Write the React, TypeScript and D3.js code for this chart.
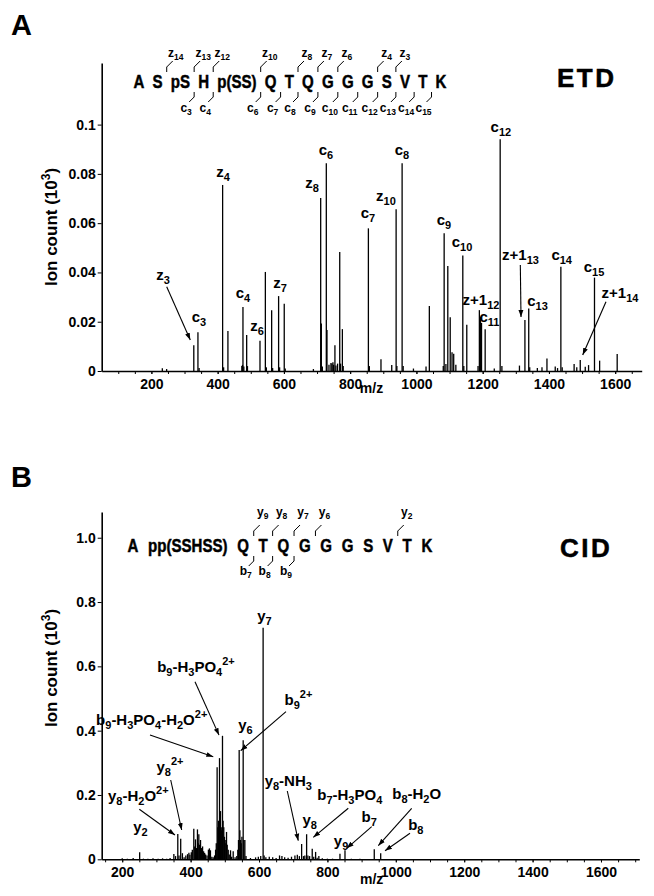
import React, { useEffect, useRef } from "react";
import * as d3 from "d3";

// ---- panel A: ETD spectrum ----
const etdMz = [233, 246, 328, 340.5, 344, 415, 418, 431, 473, 475, 476.4, 479, 487.6, 490, 527.8, 544, 547, 563, 566, 584, 587, 601, 604, 689, 711, 713, 716, 728, 730, 736, 742, 745, 748, 750, 754, 757, 762, 768.5, 771, 776.5, 779, 855, 858, 893, 925.5, 938.7, 941, 956.8, 960, 991, 1029, 1039, 1081, 1083.7, 1089, 1094.7, 1102, 1107.5, 1112.5, 1119, 1140, 1143, 1152, 1186, 1190, 1193.4, 1196.5, 1207.5, 1235, 1252.8, 1258, 1311, 1327.5, 1339, 1342, 1365, 1379, 1394, 1419, 1426, 1436, 1440, 1476, 1484, 1494.5, 1509.6, 1519.6, 1537.5, 1553, 1606];
const etdCount = [0.0011, 0.0008, 0.0105, 0.0157, 0.0012, 0.0755, 0.0015, 0.0162, 0.002, 0.0025, 0.026, 0.0018, 0.0146, 0.002, 0.0123, 0.0402, 0.0015, 0.0247, 0.0012, 0.0304, 0.0015, 0.0273, 0.001, 0.0008, 0.0702, 0.0193, 0.0018, 0.0843, 0.0166, 0.0025, 0.0032, 0.003, 0.0036, 0.0025, 0.0105, 0.0022, 0.003, 0.0483, 0.003, 0.017, 0.002, 0.0579, 0.002, 0.0048, 0.0024, 0.0656, 0.002, 0.0843, 0.002, 0.001, 0.0018, 0.0264, 0.002, 0.0559, 0.0028, 0.0426, 0.0218, 0.0076, 0.007, 0.0025, 0.0469, 0.002, 0.0188, 0.002, 0.0247, 0.022, 0.0195, 0.0169, 0.001, 0.0941, 0.002, 0.0022, 0.0207, 0.0254, 0.0015, 0.0012, 0.0015, 0.0051, 0.0018, 0.0012, 0.0423, 0.0015, 0.0028, 0.0015, 0.0045, 0.0017, 0.0024, 0.0379, 0.0042, 0.0069];

const etdYTicks = [0, 0.02, 0.04, 0.06, 0.08, 0.1];
const etdYTickLabels = ["0", "0.02", "0.04", "0.06", "0.08", "0.1"];

const etdLabelText = ["z_3", "c_3", "z_4", "c_4", "z_6", "z_7", "z_8", "c_6", "c_7", "z_10", "c_8", "c_9", "c_10", "z+1_12", "c_11", "c_12", "z+1_13", "c_13", "c_14", "c_15", "z+1_14"];
const etdLabelMz = [235, 343.7, 416, 476.5, 518.8, 588.2, 684.8, 727, 853.8, 908, 956.4, 1083, 1137.6, 1195, 1220.6, 1255, 1314, 1365.5, 1438.5, 1536, 1614.5];
const etdLabelCount = [0.0369, 0.0199, 0.0789, 0.0296, 0.0162, 0.0337, 0.0743, 0.0877, 0.0621, 0.069, 0.0877, 0.0593, 0.0503, 0.0268, 0.0199, 0.097, 0.045, 0.0264, 0.045, 0.0402, 0.0296];

const etdArrowFrom = [[246.2, 0.0342], [1313.6, 0.043], [1572.2, 0.0281]];
const etdArrowTo = [[317.4, 0.0126], [1315.7, 0.0219], [1501.9, 0.0065]];

const etdPeptide = ["A", "S", "pS", "H", "p(SS)", "Q", "T", "Q", "G", "G", "G", "S", "V", "T", "K"];
const etdZ = [14, 13, 12, 10, 8, 7, 6, 4, 3];
const etdC = [3, 4, 6, 7, 8, 9, 10, 11, 12, 13, 14, 15];

// ---- panel B: CID spectrum ----
const cidMz = [200, 215, 232, 251, 262, 275, 290, 305, 318, 330, 340, 351, 356, 362.5, 366, 371, 376, 381, 386, 391, 395, 398, 402, 405, 409.3, 412, 414.3, 417, 420, 422, 424, 426.5, 429, 431.5, 435, 438, 441, 444, 448, 452, 455, 458, 462, 466, 470, 473, 475, 477.5, 479.5, 481.5, 484.5, 486, 487.4, 489.5, 491, 493.2, 495, 497, 499, 501, 503, 505, 507, 510, 513, 516.7, 520, 524.5, 530, 535, 538, 540, 542, 544, 546, 548, 550, 553.7, 555.5, 558.6, 562, 575, 590, 598, 605, 612, 615, 620, 630, 640, 650, 660, 667, 675, 685, 695, 705, 712, 718, 724.6, 730, 734, 739.2, 743, 748, 755.6, 760, 765.5, 770, 775, 785, 800, 815, 836.7, 851.4, 870, 895, 937, 955.8, 1000, 1050];
const cidCount = [0.003, 0.002, 0.004, 0.0218, 0.002, 0.002, 0.003, 0.002, 0.003, 0.002, 0.004, 0.0166, 0.01, 0.0788, 0.012, 0.064, 0.019, 0.006, 0.012, 0.016, 0.02, 0.014, 0.022, 0.03, 0.095, 0.04, 0.062, 0.035, 0.093, 0.05, 0.078, 0.045, 0.06, 0.035, 0.04, 0.025, 0.02, 0.015, 0.012, 0.03, 0.034, 0.028, 0.008, 0.006, 0.012, 0.03, 0.05, 0.2866, 0.1, 0.12, 0.3146, 0.12, 0.15, 0.1, 0.09, 0.384, 0.12, 0.1, 0.07, 0.06, 0.05, 0.085, 0.045, 0.03, 0.015, 0.028, 0.008, 0.025, 0.006, 0.01, 0.03, 0.06, 0.34, 0.09, 0.06, 0.05, 0.07, 0.37, 0.06, 0.06, 0.01, 0.004, 0.006, 0.008, 0.01, 0.72, 0.012, 0.006, 0.008, 0.006, 0.004, 0.012, 0.01, 0.006, 0.005, 0.008, 0.012, 0.014, 0.01, 0.0476, 0.01, 0.012, 0.078, 0.012, 0.01, 0.033, 0.008, 0.023, 0.005, 0.01, 0.003, 0.002, 0.002, 0.017, 0.028, 0.002, 0.002, 0.031, 0.019, 0.001, 0.001];

const cidYTicks = [0, 0.2, 0.4, 0.6, 0.8, 1.0];
const cidYTickLabels = ["0", "0.2", "0.4", "0.6", "0.8", "1.0"];

const cidLabelText = ["y_7", "b_9-H_3PO_4^2+", "b_9^2+", "b_9-H_3PO_4-H_2O^2+", "y_6", "y_8^2+", "y_8-H_2O^2+", "y_2", "y_8-NH_3", "y_8", "b_7-H_3PO_4", "y_9", "b_7", "b_8-H_2O", "b_8"];
const cidLabelMz = [616, 415.7, 715.4, 286.2, 560.5, 339.7, 247, 253.4, 685.6, 748.2, 865.4, 840, 922, 1061, 1058.4];
const cidLabelCount = [0.742, 0.582, 0.479, 0.4176, 0.402, 0.2715, 0.1813, 0.0849, 0.228, 0.1067, 0.1844, 0.0414, 0.116, 0.1875, 0.0911];

const cidArrowFrom = [[412.8, 0.552], [678.9, 0.459], [281.2, 0.3866], [341.8, 0.2466], [250, 0.1555], [682.7, 0.2124], [861, 0.1586], [929.5, 0.1014], [1046.4, 0.1586], [1041.5, 0.0808]];
const cidArrowTo = [[483, 0.3862], [546.4, 0.3377], [466.3, 0.319], [373.9, 0.0911], [354.3, 0.0756], [714.8, 0.0578], [758.7, 0.0684], [856.4, 0.0342], [948.8, 0.0423], [968.4, 0.0267]];

const cidPeptide = ["A", "pp(SSHSS)", "Q", "T", "Q", "G", "G", "G", "S", "V", "T", "K"];
const cidY = [9, 8, 7, 6, 2];
const cidB = [7, 8, 9];

const xTickValues = [200, 400, 600, 800, 1000, 1200, 1400, 1600];
const RESIDUES = 16;

const SANS = "'Liberation Sans', Arial, Helvetica, sans-serif";

type Seg = { t: string; m: "n" | "sub" | "sup" };

function parseLabel(s: string): Seg[] {
  const segs: Seg[] = [];
  let buf = "";
  let i = 0;
  while (i < s.length) {
    const ch = s[i];
    if (ch === "_") {
      if (buf) segs.push({ t: buf, m: "n" });
      buf = "";
      i++;
      let d = "";
      while (i < s.length && /[0-9]/.test(s[i])) { d += s[i]; i++; }
      segs.push({ t: d, m: "sub" });
    } else if (ch === "^") {
      if (buf) segs.push({ t: buf, m: "n" });
      buf = "";
      segs.push({ t: s.slice(i + 1), m: "sup" });
      i = s.length;
    } else {
      buf += ch;
      i++;
    }
  }
  if (buf) segs.push({ t: buf, m: "n" });
  return segs;
}

function rich(text: any, s: string, subSize: number, subDy: number, supDy: number) {
  let shift = 0;
  parseLabel(s).forEach((seg) => {
    const target = seg.m === "sub" ? subDy : seg.m === "sup" ? supDy : 0;
    const ts = text.append("tspan").attr("dy", target - shift).text(seg.t);
    if (seg.m !== "n") ts.attr("font-size", subSize);
    shift = target;
  });
}

function drawPanel(svg: any, p: any) {
  const g = svg.append("g");
  const x = d3.scaleLinear().domain(p.xDomain).range(p.xRange);
  const y = d3.scaleLinear().domain(p.yDomain).range(p.yRange);
  const y0 = p.yRange[0];

  // peaks
  g.append("g")
    .selectAll("line")
    .data(p.mz.map((m: number, i: number) => [m, p.count[i]]))
    .join("line")
    .attr("x1", (d: number[]) => x(d[0]))
    .attr("x2", (d: number[]) => x(d[0]))
    .attr("y1", y0)
    .attr("y2", (d: number[]) => y(d[1]))
    .attr("stroke", "#000")
    .attr("stroke-width", 1.3);

  // axes
  const minor = g.append("g")
    .attr("transform", `translate(0,${y0})`)
    .call(d3.axisBottom(x).tickValues(p.minorTicks).tickSize(3).tickFormat(() => ""));
  minor.select(".domain").remove();
  minor.selectAll("line").attr("stroke-width", 1);

  const xa = g.append("g")
    .attr("transform", `translate(0,${y0})`)
    .call(d3.axisBottom(x).tickValues(xTickValues).tickSize(3).tickSizeOuter(0).tickFormat(d3.format("d")));
  xa.select(".domain").attr("stroke-width", 1.6);
  xa.selectAll("text")
    .attr("dy", null)
    .attr("y", 18)
    .attr("font-size", 14)
    .attr("font-weight", "bold")
    .attr("font-family", SANS);

  const ya = g.append("g")
    .attr("transform", `translate(${p.xRange[0]},0)`)
    .call(d3.axisLeft(y).tickValues(p.yTicks).tickSize(4).tickSizeOuter(0)
      .tickFormat((d: any, i: number) => p.yTickLabels[i]));
  ya.select(".domain").attr("stroke-width", 1.6);
  ya.selectAll("text")
    .attr("x", -6)
    .attr("font-size", 14)
    .attr("font-weight", "bold")
    .attr("font-family", SANS);

  g.append("text")
    .attr("x", p.mzLabel[0]).attr("y", p.mzLabel[1])
    .attr("text-anchor", "middle")
    .attr("font-family", SANS).attr("font-size", 14).attr("font-weight", "bold")
    .text("m/z");

  const yl = g.append("text")
    .attr("transform", `translate(${p.yLabel[0]},${p.yLabel[1]}) rotate(-90)`)
    .attr("text-anchor", "middle")
    .attr("font-family", SANS).attr("font-size", 17).attr("font-weight", "bold");
  yl.append("tspan").text("Ion count (10");
  yl.append("tspan").attr("dy", -7).attr("font-size", 12).text("3");
  yl.append("tspan").attr("dy", 7).text(")");

  // peak labels
  p.labelText.forEach((s: string, i: number) => {
    const t = g.append("text")
      .attr("x", x(p.labelMz[i])).attr("y", y(p.labelCount[i]))
      .attr("text-anchor", "middle")
      .attr("font-family", SANS).attr("font-size", 15).attr("font-weight", "bold");
    rich(t, s, 11, 4, -7);
  });

  p.arrowFrom.forEach((a: number[], i: number) => {
    const b = p.arrowTo[i];
    g.append("line")
      .attr("x1", x(a[0])).attr("y1", y(a[1]))
      .attr("x2", x(b[0])).attr("y2", y(b[1]))
      .attr("stroke", "#000").attr("stroke-width", 1.1)
      .attr("marker-end", "url(#ah)");
  });

  // panel letter and method
  g.append("text")
    .attr("x", p.letter[0]).attr("y", p.letter[1])
    .attr("font-family", SANS).attr("font-size", 29).attr("font-weight", "bold")
    .text(p.letterText);
  g.append("text")
    .attr("x", p.method[0]).attr("y", p.method[1])
    .attr("font-family", SANS).attr("font-size", 26).attr("font-weight", "bold")
    .attr("letter-spacing", 2.5)
    .attr("stroke", "#000").attr("stroke-width", 0.5)
    .text(p.methodText);

  // peptide sequence with fragment brackets
  const pep = g.append("g")
    .attr("font-family", SANS).attr("font-size", 17.5).attr("font-weight", "bold")
    .attr("stroke", "#000").attr("stroke-width", 0.45);
  const sx = 0.86;
  let cx = p.pepStart;
  let res = 0;
  const after: Record<number, number> = {};
  p.peptide.forEach((tok: string) => {
    const t = pep.append("text")
      .attr("transform", `translate(${cx},${p.pepBase}) scale(${sx},1)`)
      .text(tok);
    const w = (t.node() as SVGTextElement).getComputedTextLength() * sx;
    res += (tok.match(/[A-Z]/g) || []).length;
    after[res] = cx + w + p.pepGap / 2;
    cx += w + p.pepGap;
  });

  const top = p.pepBase - 12;
  const fr = g.append("g").attr("font-family", SANS).attr("font-weight", "bold").attr("font-size", 12);
  p.upper.forEach((n: number) => {
    const bx = after[RESIDUES - n];
    fr.append("path")
      .attr("d", `M${bx},${top - 4}V${top - 9}L${bx + 6},${top - 15}`)
      .attr("fill", "none").attr("stroke", "#000").attr("stroke-width", 1);
    const t = fr.append("text").attr("x", bx + 9).attr("y", top - p.upperGap).attr("text-anchor", "middle");
    rich(t, `${p.upperIon}_${n}`, 8.5, 3, -5);
  });
  p.lower.forEach((n: number) => {
    const bx = after[n];
    fr.append("path")
      .attr("d", `M${bx},${p.pepBase + 4}V${p.pepBase + 9}L${bx - 5},${p.pepBase + 14}`)
      .attr("fill", "none").attr("stroke", "#000").attr("stroke-width", 1);
    const t = fr.append("text").attr("x", bx - 8).attr("y", p.pepBase + p.lowerGap).attr("text-anchor", "middle");
    rich(t, `${p.lowerIon}_${n}`, 8.5, 3, -5);
  });
}

const App = () => {
  const svgRef = useRef<SVGSVGElement>(null);

  useEffect(() => {
    const svg = d3.select(svgRef.current);
    svg.selectAll("*").remove();

    svg.append("defs").append("marker")
      .attr("id", "ah")
      .attr("viewBox", "0 0 10 10")
      .attr("refX", 10).attr("refY", 5)
      .attr("markerUnits", "userSpaceOnUse")
      .attr("markerWidth", 7).attr("markerHeight", 7)
      .attr("orient", "auto")
      .append("path").attr("d", "M0,1.5L10,5L0,8.5Z").attr("fill", "#000");

    drawPanel(svg, {
      mz: etdMz, count: etdCount,
      xDomain: [50, 1680], xRange: [101.7, 641.7],
      yDomain: [0, 0.125], yRange: [371, 63],
      yTicks: etdYTicks, yTickLabels: etdYTickLabels,
      minorTicks: d3.range(100, 1680, 50),
      labelText: etdLabelText, labelMz: etdLabelMz, labelCount: etdLabelCount,
      arrowFrom: etdArrowFrom, arrowTo: etdArrowTo,
      mzLabel: [371.5, 393], yLabel: [57, 227],
      letter: [11, 35], letterText: "A",
      method: [557, 87], methodText: "ETD",
      peptide: etdPeptide, pepStart: 133.5, pepGap: 8.2, pepBase: 88,
      upper: etdZ, upperIon: "z", upperGap: 19,
      lower: etdC, lowerIon: "c", lowerGap: 24,
    });

    drawPanel(svg, {
      mz: cidMz, count: cidCount,
      xDomain: [140, 1712], xRange: [101.7, 639.3],
      yDomain: [0, 1.08], yRange: [859.3, 512],
      yTicks: cidYTicks, yTickLabels: cidYTickLabels,
      minorTicks: d3.range(150, 1712, 50),
      labelText: cidLabelText, labelMz: cidLabelMz, labelCount: cidLabelCount,
      arrowFrom: cidArrowFrom, arrowTo: cidArrowTo,
      mzLabel: [371.7, 884], yLabel: [57, 668],
      letter: [11, 487], letterText: "B",
      method: [560, 557], methodText: "CID",
      peptide: cidPeptide, pepStart: 127.5, pepGap: 9.7, pepBase: 552,
      upper: cidY, upperIon: "y", upperGap: 24,
      lower: cidB, lowerIon: "b", lowerGap: 23,
    });
  }, []);

  return (
    <svg
      ref={svgRef}
      width={654}
      height={896}
      style={{ position: "absolute", left: 0, top: 0, background: "#fff" }}
    />
  );
};

export default App;
